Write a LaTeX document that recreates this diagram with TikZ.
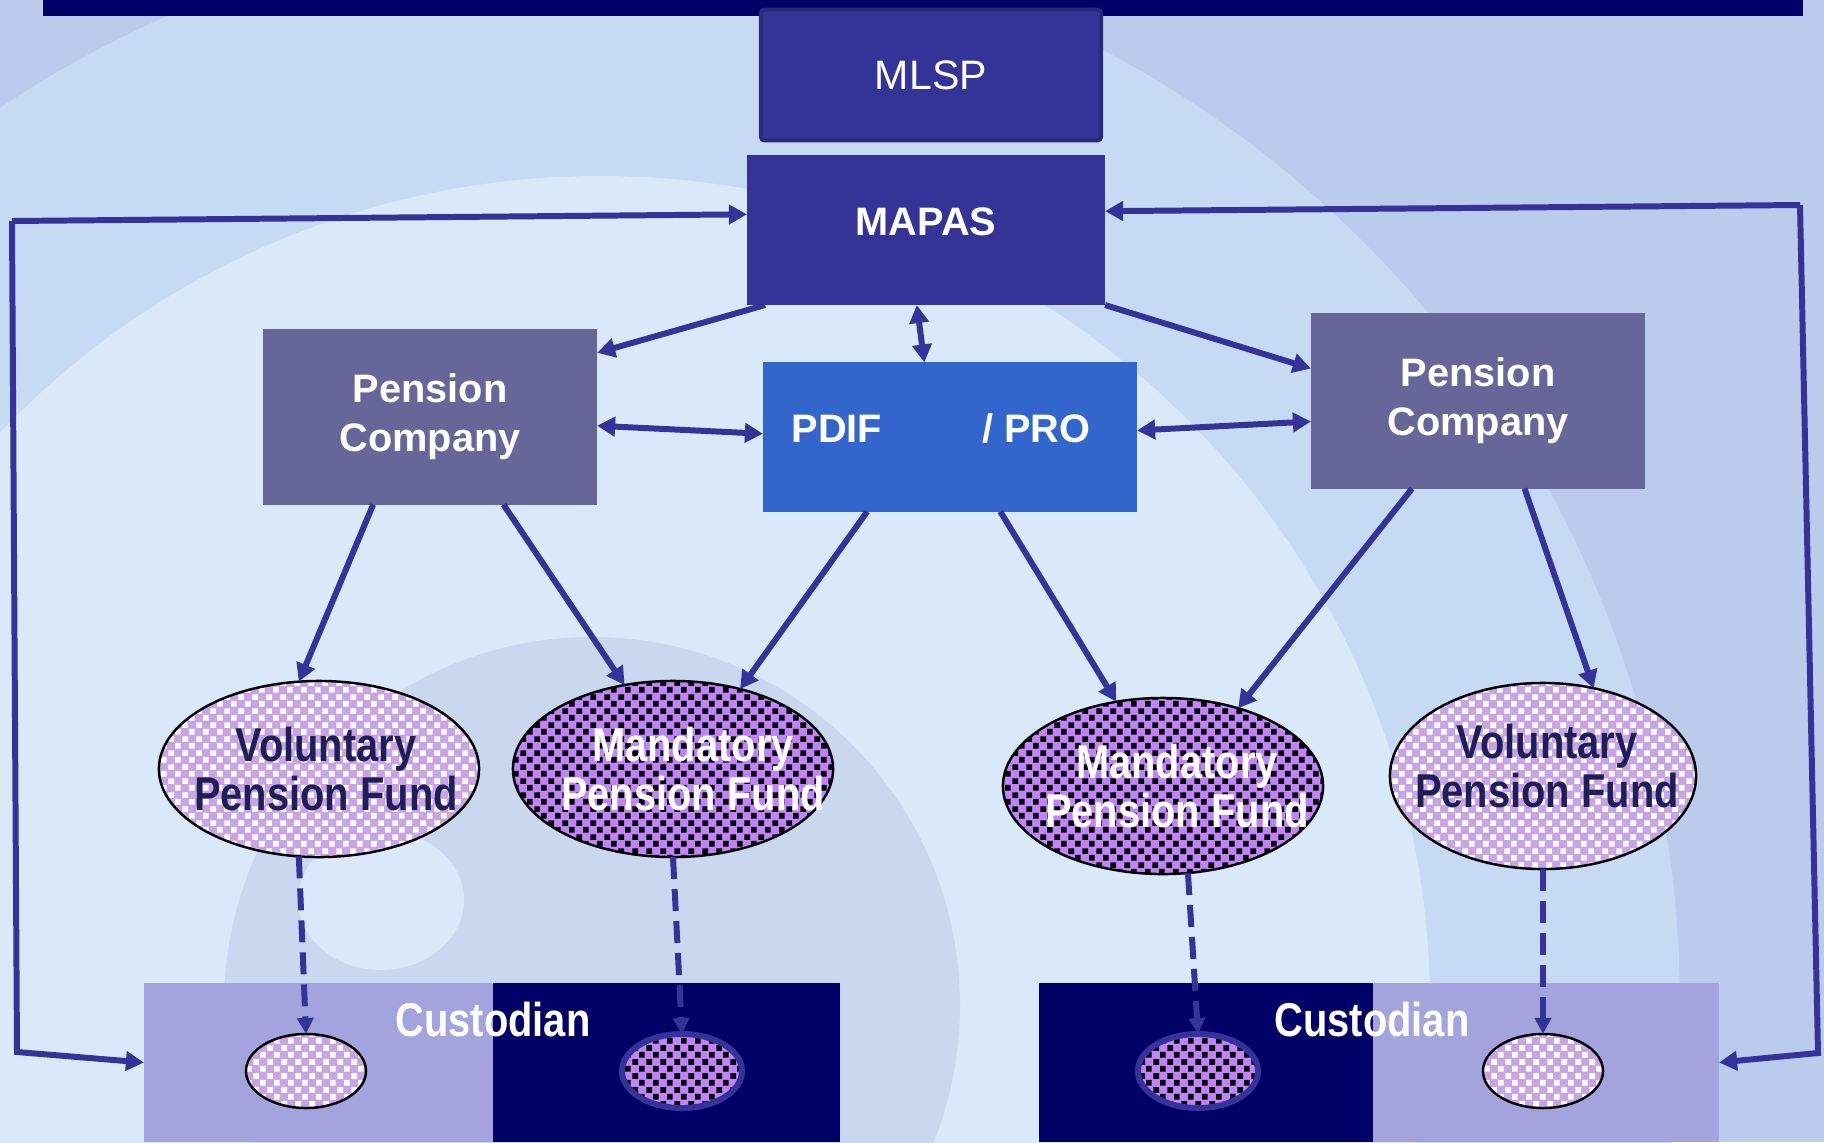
\documentclass[tikz,border=0pt]{standalone}
\usepackage{fontspec}
\setmainfont{Liberation Sans}
\newfontfamily\narrowsans[FakeStretch=0.84]{Liberation Sans}
\usepackage{xcolor}
\usepackage{tikz}
\usetikzlibrary{arrows.meta, shapes.geometric, patterns.meta}

\definecolor{barnavy}{HTML}{000066}
\definecolor{regblue}{HTML}{343398}
\definecolor{regedge}{HTML}{2A2A78}
\definecolor{compgray}{HTML}{666699}
\definecolor{fundblue}{HTML}{3366CC}
\definecolor{linkblue}{HTML}{333399}
\definecolor{custlight}{HTML}{A3A3DD}
\definecolor{voltext}{HTML}{1E1E5A}
\definecolor{lilac}{HTML}{C9A3E2}
\definecolor{mandviolet}{HTML}{C183FA}
\definecolor{bgouter}{HTML}{BACBEC}
\definecolor{bgmid}{HTML}{C6DBF3}
\definecolor{bglight}{HTML}{D9E9FA}
\definecolor{bgdisc}{HTML}{C9D7EF}

% gaps between the pearls of a fund
\tikzdeclarepattern{
  name=pearlgaps,
  type=uncolored,
  bounding box={(0pt,0pt) and (4pt,4pt)},
  tile size={(4pt,4pt)},
  code={
    \fill (2.15pt,0.15pt) rectangle (3.85pt,1.85pt);
    \fill (0.15pt,2.15pt) rectangle (1.85pt,3.85pt);
  }
}

\begin{document}
\begin{tikzpicture}[
        x=0.01cm, y=-0.01cm,
        every node/.style={inner sep=0pt, outer sep=0pt},
        boxfont/.style={font=\fontsize{11.3}{13.9}\selectfont\bfseries, text=white, align=center},
        mlspbox/.style={rectangle, fill=regblue, draw=regedge, line width=1.1pt, rounded corners=1pt, minimum width=3.40cm, minimum height=1.31cm, font=\fontsize{11.7}{14}\selectfont, text=white},
        regulator/.style={rectangle, fill=regblue, minimum width=3.58cm, minimum height=1.50cm, boxfont, text depth=5pt},
        company/.style={rectangle, fill=compgray, minimum width=3.34cm, minimum height=1.75cm, boxfont},
        fundbox/.style={rectangle, fill=fundblue, minimum width=3.74cm, minimum height=1.49cm, boxfont, text depth=5pt},
        volfund/.style={ellipse, draw=black, line width=0.7pt, preaction={fill=lilac}, pattern=pearlgaps, pattern color=white},
        mandfund/.style={ellipse, draw=black, line width=0.7pt, preaction={fill=mandviolet}, pattern=pearlgaps, pattern color=black},
        bigfund/.style={minimum width=3.20cm, minimum height=1.76cm},
        asset/.style={minimum width=1.20cm, minimum height=0.74cm},
        fundtext/.style={font=\narrowsans\bfseries\fontsize{13.5}{13.7}\selectfont, align=center},
        custpane/.style={rectangle, minimum height=1.59cm},
        link/.style={draw=linkblue, line width=1.7pt, -{Triangle[length=0.18cm, width=0.19cm]}},
        twoway/.style={link, {Triangle[length=0.18cm, width=0.19cm]}-{Triangle[length=0.18cm, width=0.19cm]}},
        hold/.style={draw=linkblue, line width=1.7pt, dash pattern=on 0.22cm off 0.1cm, -{Triangle[length=0.16cm, width=0.16cm]}},
    ]
        \useasboundingbox (0,0) rectangle (1824,1142);

        % Background rings
        \begin{scope}
            \clip (0,0) rectangle (1824,1142);
            \fill[bgouter] (0,0) rectangle (1824,1142);
            \fill[bgmid] (600,1006) circle [radius=1080];
            \fill[bglight] (600,1006) circle [radius=830];
            \fill[bgdisc] (592,1005) circle [radius=368];
            \fill[bglight] (381,900) ellipse [x radius=83, y radius=70];
        \end{scope}
        \fill[barnavy] (43,0) rectangle (1803,16);

        % Supervisors
        \node[mlspbox] (mlsp) at (931,75) {MLSP};
        \node[regulator] (mapas) at (926,230) {MAPAS};

        % Companies and PDIF
        \node[company] (pcL) at (430,417) {Pension\\Company};
        \node[fundbox] (pdif) at (950,437) {PDIF\hspace{1cm}/ PRO\hspace{0.18cm}};
        \node[company] (pcR) at (1478,401) {Pension\\Company};

        % Funds
        \node[volfund, bigfund] (volL) at (319,769) {};
        \node[mandfund, bigfund] (mandL) at (673,769) {};
        \node[mandfund, bigfund] (mandR) at (1163,786) {};
        \node[volfund, bigfund, minimum width=3.06cm, minimum height=1.86cm] (volR) at (1543,776) {};
        \node[fundtext, text=voltext] (volLtxt) at ([xshift=0.07cm]volL) {Voluntary\\Pension Fund};
        \node[fundtext, text=white] (mandLtxt) at ([xshift=0.2cm]mandL) {Mandatory\\Pension Fund};
        \node[fundtext, text=white] (mandRtxt) at ([xshift=0.14cm]mandR) {Mandatory\\Pension Fund};
        \node[fundtext, text=voltext] (volRtxt) at ([xshift=0.04cm, yshift=0.1cm]volR) {Voluntary\\Pension Fund};

        % Custodians
        \node[custpane, fill=custlight, minimum width=3.49cm] (custLa) at (318.5,1062.5) {};
        \node[custpane, fill=barnavy, minimum width=3.47cm] (custLb) at (666.5,1062.5) {};
        \node[custpane, fill=barnavy, minimum width=3.34cm] (custRa) at (1206,1062.5) {};
        \node[custpane, fill=custlight, minimum width=3.46cm] (custRb) at (1546,1062.5) {};
        \node[fundtext, text=white] (custLtxt) at (493,1020) {Custodian};
        \node[fundtext, text=white] (custRtxt) at (1372,1020) {Custodian};
        \node[volfund, asset] (cvL) at (306,1071) {};
        \node[mandfund, asset, draw=linkblue, line width=1.7pt] (cmL) at (682,1071) {};
        \node[mandfund, asset, draw=linkblue, line width=1.7pt] (cmR) at (1198,1071) {};
        \node[volfund, asset] (cvR) at (1543,1071) {};

        % Reporting loops
        \coordinate (loopNW) at (12,221);
        \coordinate (loopSW) at (17,1052);
        \coordinate (loopNE) at (1800,205);
        \coordinate (loopSE) at (1818,1053);
        \draw[link] (loopNW) -- (mapas.175);
        \draw[link] (loopNW) -- (loopSW) -- (custLa.west);
        \draw[link] (loopNE) -- (mapas.6);
        \draw[link] (loopNE) -- (loopSE) -- (custRb.east);

        % Arrows
        \draw[link] (mapas.205) -- (pcL.21);
        \draw[link] (mapas.south east) -- (pcR.169);
        \draw[twoway] (mapas.263) -- (pdif.109);
        \draw[twoway] (pcL.-3) -- (pdif.179);
        \draw[twoway] (pdif.2) -- (pcR.187);
        \draw[link] (pcL.237) -- (volL.103);
        \draw[link] (pcL.-50) -- (mandL.120);
        \draw[link] (pdif.222) -- (mandL.50);
        \draw[link] (pdif.-56) -- (mandR.119);
        \draw[link] (pcR.233) -- (mandR.46);
        \draw[link] (pcR.-62) -- (volR.60);

        % Assets held by custodians
        \draw[hold] (volL.257) -- (cvL.north);
        \draw[hold] (mandL.south) -- (cmL.north);
        \draw[hold] (mandR.-74) -- (cmR.north);
        \draw[hold] (volR.south) -- (cvR.north);
    \end{tikzpicture}
\end{document}
